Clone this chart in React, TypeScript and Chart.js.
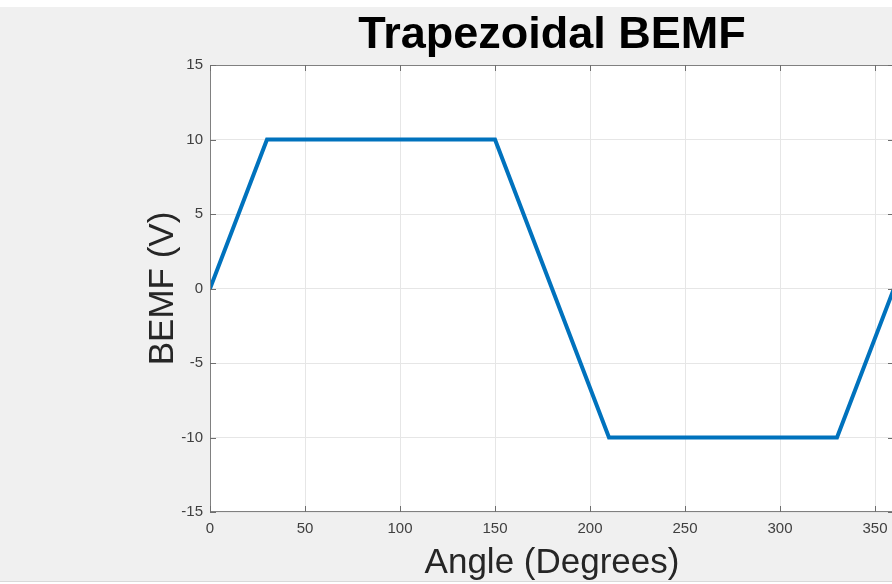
import React, { useEffect, useRef } from "react";
import Chart from "chart.js/auto";

const angles = [0, 30, 150, 210, 330, 360];
const bemf = [0, 10, 10, -10, -10, 0];
const xTickValues = [0, 50, 100, 150, 200, 250, 300, 350];
const yTickValues = [-15, -10, -5, 0, 5, 10, 15];
const titleText = "Trapezoidal BEMF";
const xLabel = "Angle (Degrees)";
const yLabel = "BEMF (V)";

const FONT = "'Liberation Sans', Arial, Helvetica, sans-serif";
const CANVAS_W = 920;
const CANVAS_H = 584;

const decorPlugin = {
  id: "matlabDecor",
  beforeDraw(chart: any) {
    const { ctx, chartArea } = chart;
    ctx.save();
    ctx.fillStyle = "#f0f0f0";
    ctx.fillRect(0, 0, CANVAS_W, CANVAS_H);
    ctx.fillStyle = "#ffffff";
    ctx.fillRect(0, 0, CANVAS_W, 7);
    ctx.fillRect(0, 582, CANVAS_W, 2);
    ctx.fillStyle = "#d9d9d9";
    ctx.fillRect(0, 581, CANVAS_W, 1);
    ctx.fillStyle = "#ffffff";
    ctx.fillRect(chartArea.left, chartArea.top, chartArea.right - chartArea.left, chartArea.bottom - chartArea.top);
    ctx.restore();
  },
  afterDraw(chart: any) {
    const { ctx, chartArea, scales } = chart;
    const { left, right, top, bottom } = chartArea;
    ctx.save();
    // box
    ctx.strokeStyle = "#808080";
    ctx.lineWidth = 1;
    ctx.strokeRect(left + 0.5, top + 0.5, right - left - 1, bottom - top - 1);
    // inward ticks
    ctx.strokeStyle = "#6e6e6e";
    ctx.beginPath();
    for (const v of xTickValues) {
      const x = Math.round(scales.x.getPixelForValue(v)) + 0.5;
      ctx.moveTo(x, bottom);
      ctx.lineTo(x, bottom - 6);
      ctx.moveTo(x, top);
      ctx.lineTo(x, top + 6);
    }
    for (const v of yTickValues) {
      const y = Math.round(scales.y.getPixelForValue(v)) + 0.5;
      ctx.moveTo(left, y);
      ctx.lineTo(left + 6, y);
      ctx.moveTo(right, y);
      ctx.lineTo(right - 6, y);
    }
    ctx.stroke();
    // title
    const cx = (left + right) / 2;
    ctx.fillStyle = "#000000";
    ctx.font = `bold 45px ${FONT}`;
    ctx.textAlign = "center";
    ctx.textBaseline = "alphabetic";
    ctx.fillText(titleText, cx, 48);
    // x label
    ctx.fillStyle = "#262626";
    ctx.font = `35px ${FONT}`;
    ctx.fillText(xLabel, cx, 573);
    // y label
    ctx.translate(173, (top + bottom) / 2);
    ctx.rotate(-Math.PI / 2);
    ctx.fillText(yLabel, 0, 0);
    ctx.restore();
  },
};

export default function App() {
  const canvasRef = useRef<HTMLCanvasElement | null>(null);

  useEffect(() => {
    if (!canvasRef.current) return;
    const chart = new Chart(canvasRef.current, {
      type: "line",
      data: {
        datasets: [
          {
            data: angles.map((a, i) => ({ x: a, y: bemf[i] })),
            borderColor: "#0072BD",
            borderWidth: 4,
            pointRadius: 0,
            fill: false,
            tension: 0,
          },
        ],
      },
      options: {
        responsive: false,
        animation: false,
        devicePixelRatio: 1,
        layout: { padding: { top: 65, left: 0, right: CANVAS_W - 894, bottom: 0 } },
        plugins: {
          legend: { display: false },
          tooltip: { enabled: false },
          title: { display: false },
        },
        scales: {
          x: {
            type: "linear",
            min: 0,
            max: 360,
            afterBuildTicks: (s: any) => {
              s.ticks = xTickValues.map((v) => ({ value: v }));
            },
            afterFit: (s: any) => {
              s.height = CANVAS_H - 512;
            },
            ticks: {
              font: { family: FONT, size: 15 },
              color: "#404040",
              padding: 8,
              maxRotation: 0,
              autoSkip: false,
            },
            grid: { color: "#e6e6e6", drawTicks: false, tickLength: 0 },
            border: { display: false },
          },
          y: {
            type: "linear",
            min: -15,
            max: 15,
            afterBuildTicks: (s: any) => {
              s.ticks = yTickValues.map((v) => ({ value: v }));
            },
            afterFit: (s: any) => {
              s.width = 210;
            },
            ticks: {
              font: { family: FONT, size: 15 },
              color: "#404040",
              padding: 7,
              autoSkip: false,
            },
            grid: { color: "#e6e6e6", drawTicks: false, tickLength: 0 },
            border: { display: false },
          },
        },
      },
      plugins: [decorPlugin],
    });
    return () => chart.destroy();
  }, []);

  return (
    <div
      style={{
        position: "absolute",
        left: 0,
        top: 0,
        width: 892,
        height: 584,
        overflow: "hidden",
        background: "#f0f0f0",
      }}
    >
      <canvas
        ref={canvasRef}
        width={CANVAS_W}
        height={CANVAS_H}
        style={{ width: CANVAS_W, height: CANVAS_H, display: "block" }}
      />
    </div>
  );
}
